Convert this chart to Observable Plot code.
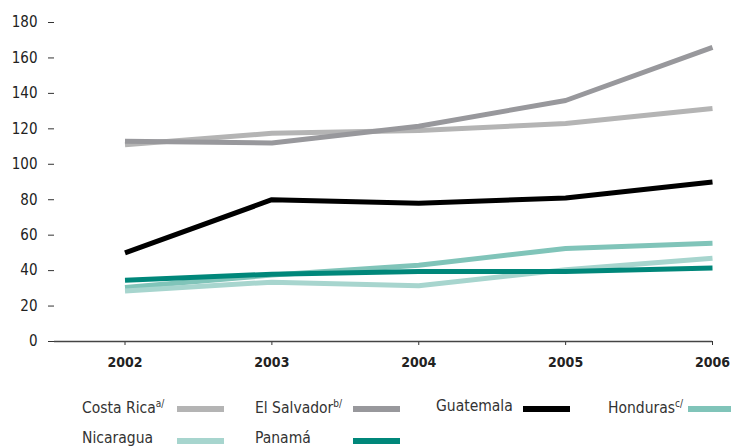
<!DOCTYPE html>
<html>
<head>
<meta charset="utf-8">
<script src="https://cdn.jsdelivr.net/npm/d3@7"></script>
<script src="https://cdn.jsdelivr.net/npm/@observablehq/plot@0.6"></script>
<style>
  body { margin: 0; background: #fff; }
  #wrap { position: relative; width: 731px; height: 447px; overflow: hidden;
    font-family: "Liberation Sans Narrow", "DejaVu Sans Condensed", "Roboto Condensed", sans-serif; font-stretch: condensed; }
  .leg { position: absolute; font-size: 15.5px; color: #333; white-space: nowrap; line-height: 1; }
  .leg sup { font-size: 10px; vertical-align: 6px; }
  .sw { position: absolute; height: 6px; }
</style>
</head>
<body>
<div id="wrap"><div id="chart"></div><div id="legend"></div></div>
<script>
const years = [2002, 2003, 2004, 2005, 2006];
const countries = ["Costa Rica", "El Salvador", "Guatemala", "Honduras", "Nicaragua", "Panamá"];
const notes = ["a/", "b/", "", "c/", "", ""];
const costaRica  = [111, 117.5, 119, 123, 131.5];
const elSalvador = [113, 112, 121.5, 136, 166];
const guatemala  = [50, 80, 78, 81, 90];
const honduras   = [30.5, 37.5, 43, 52.5, 55.5];
const nicaragua  = [28.5, 33.5, 31.5, 40.5, 47];
const panama     = [34.5, 38, 39.5, 39.5, 41.5];
const yTicks = [0, 20, 40, 60, 80, 100, 120, 140, 160, 180];
const colors = ["#b4b4b4", "#98989c", "#000000", "#80c4b9", "#a7d5ce", "#00877a"];

const series = [costaRica, elSalvador, guatemala, honduras, nicaragua, panama];
const data = [];
countries.forEach((c, i) => years.forEach((y, j) => data.push({country: c, year: y, value: series[i][j]})));

const font = '"Liberation Sans Narrow", "DejaVu Sans Condensed", "Roboto Condensed", sans-serif';

const chart = Plot.plot({
  width: 731,
  height: 385,
  marginTop: 22,
  marginBottom: 44,
  marginLeft: 54,
  marginRight: 19,
  style: {fontFamily: font, fontStretch: "condensed", background: "#fff", color: "#222"},
  x: {domain: [2001.52, 2006], axis: null},
  y: {domain: [0, 180], axis: null},
  color: {domain: countries, range: colors},
  marks: [
    Plot.axisY({ticks: yTicks, tickSize: 6, tickPadding: 11, fontSize: 15, label: null, stroke: "#333"}),
    Plot.axisX({ticks: years, tickFormat: d => String(d), tickSize: 4, tickPadding: 12, fontSize: 14, fontWeight: "bold", label: null, stroke: "#333"}),
    Plot.ruleY([0], {stroke: "#444", strokeWidth: 1.5}),
    Plot.line(data, {x: "year", y: "value", z: "country", stroke: "country", strokeWidth: 5, strokeLinejoin: "miter", strokeLinecap: "butt"})
  ]
});
document.getElementById("chart").appendChild(chart);

// Legend
const textX = [82, 255, 436, 608, 82, 255];
const swX = [177, 353, 523, 688, 177, 353];
const rowY = [399, 431];
const leg = document.getElementById("legend");
countries.forEach((c, i) => {
  const row = i < 4 ? 0 : 1;
  const t = document.createElement("div");
  t.className = "leg";
  t.style.left = textX[i] + "px";
  t.style.top = rowY[row] + "px";
  t.innerHTML = c + (notes[i] ? "<sup>" + notes[i] + "</sup>" : "");
  leg.appendChild(t);
  const s = document.createElement("div");
  s.className = "sw";
  s.style.left = swX[i] + "px";
  s.style.width = "47px";
  s.style.top = (rowY[row] + 7) + "px";
  s.style.background = colors[i];
  leg.appendChild(s);
});
</script>
</body>
</html>
